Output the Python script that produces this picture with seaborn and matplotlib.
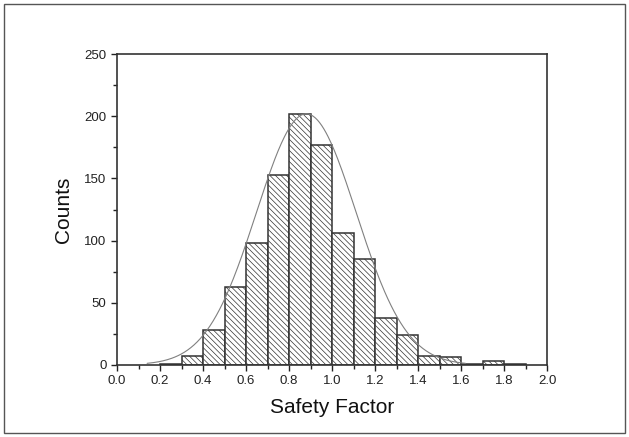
import numpy as np
import pandas as pd
import matplotlib
matplotlib.use("Agg")
import matplotlib.pyplot as plt
from matplotlib.patches import Rectangle
from matplotlib.ticker import MultipleLocator, FormatStrFormatter
import seaborn as sns

# histogram of safety factor (bin width 0.1)
bin_left = [0.2, 0.3, 0.4, 0.5, 0.6, 0.7, 0.8, 0.9, 1.0, 1.1, 1.2, 1.3, 1.4, 1.5, 1.6, 1.7, 1.8]
counts = [1, 7, 28, 63, 98, 153, 202, 177, 106, 85, 38, 24, 7, 6, 1, 3, 1]
bin_width = 0.1

# gaussian fit parameters
fit_center = 0.88
fit_sigma = 0.232
fit_amp = 202

sns.set_theme(style="white")
plt.rcParams["font.family"] = ["Liberation Sans", "DejaVu Sans"]
plt.rcParams["hatch.color"] = "#7a7a7a"
plt.rcParams["hatch.linewidth"] = 0.5

df = pd.DataFrame({"sf": np.array(bin_left) + bin_width / 2, "n": counts})

fig = plt.figure(figsize=(6.29, 4.37), dpi=100)
ax = fig.add_axes([0.186, 0.165, 0.684, 0.711])

sns.histplot(data=df, x="sf", weights="n", binwidth=bin_width, binrange=(0.2, 1.9), ax=ax,
             color="white", edgecolor="#333333", linewidth=1.1, alpha=1)
for p in ax.patches:
    p.set_hatch("\\" * 6)

xs = np.linspace(0.14, 1.62, 300)
ys = fit_amp * np.exp(-(xs - fit_center) ** 2 / (2 * fit_sigma ** 2))
sns.lineplot(x=xs, y=ys, ax=ax, color="#808080", linewidth=0.8)

ax.set_xlim(0, 2.0)
ax.set_ylim(0, 250)
ax.xaxis.set_major_locator(MultipleLocator(0.2))
ax.xaxis.set_minor_locator(MultipleLocator(0.1))
ax.yaxis.set_major_locator(MultipleLocator(50))
ax.yaxis.set_minor_locator(MultipleLocator(25))
ax.xaxis.set_major_formatter(FormatStrFormatter("%.1f"))
ax.tick_params(which="both", direction="out", bottom=True, left=True,
               top=False, right=False, colors="#222222", labelsize=9.5, width=1)
ax.tick_params(which="major", length=4)
ax.tick_params(which="minor", length=3)
for s in ax.spines.values():
    s.set_color("#333333")
    s.set_linewidth(1.2)

ax.set_xlabel("Safety Factor", fontsize=15, color="#111111", labelpad=8)
ax.set_ylabel("Counts", fontsize=15, color="#111111", labelpad=8)

fig.patches.append(Rectangle((0.006, 0.009), 0.988, 0.982, transform=fig.transFigure,
                             fill=False, edgecolor="#555555", linewidth=1))

fig.savefig("out.png", dpi=100)
